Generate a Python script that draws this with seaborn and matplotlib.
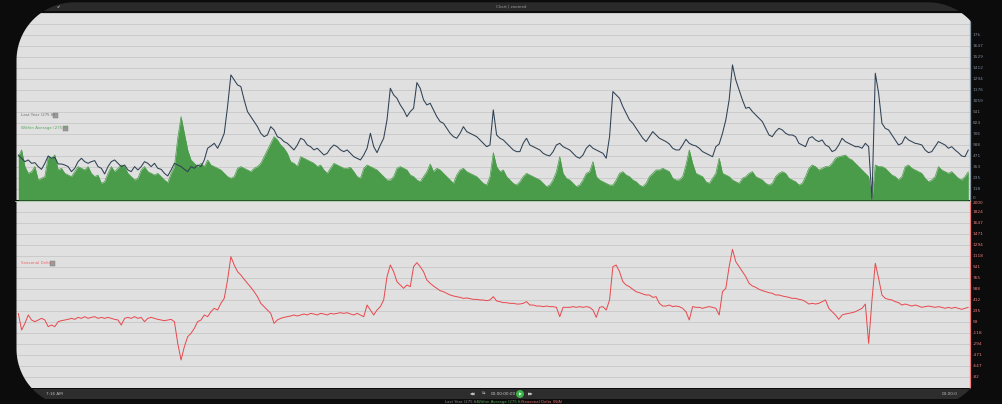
import numpy as np
import pandas as pd
import matplotlib
matplotlib.use("Agg")
import matplotlib.pyplot as plt
import matplotlib.transforms as mtransforms
import seaborn as sns
from matplotlib.path import Path
from matplotlib.patches import PathPatch, Rectangle, Circle

# ---------------- data ----------------
last_year = [
    481, 446, 410, 428, 392, 399, 357, 328, 392, 471,
    446, 456, 385, 385, 374, 357, 303, 339, 410, 446,
    410, 392, 410, 421, 357, 339, 278, 357, 410, 428,
    392, 357, 374, 321, 303, 357, 321, 357, 410, 392,
    357, 392, 339, 328, 285, 257, 321, 392, 374, 357,
    328, 303, 357, 339, 374, 357, 428, 553, 578, 606,
    553, 624, 713, 998, 1337, 1283, 1230, 1212, 1070, 945,
    891, 838, 784, 713, 677, 695, 784, 749, 677, 660,
    624, 606, 570, 535, 588, 660, 642, 588, 570, 535,
    553, 517, 481, 499, 553, 588, 570, 535, 517,
    535, 499, 463, 446, 428, 481, 553, 713, 570,
    506, 588, 660, 856, 1194, 1123, 1087, 1016, 963, 891,
    945, 980, 1255, 1194, 1070, 1016, 1034, 963, 891, 838,
    820, 766, 713, 677, 660, 713, 784, 731, 713, 695,
    677, 642, 606, 570, 588, 963, 695, 660, 642, 606,
    570, 535, 517, 517, 606, 660, 588, 570, 553, 535,
    499, 481, 471, 517, 588, 606, 570, 553, 535, 499,
    463, 446, 481, 553, 588, 553, 535, 517, 499, 446,
    677, 1159, 1123, 1087, 998, 927, 856, 820, 766, 713,
    660, 624, 677, 731, 695, 660, 642, 624, 599,
    553, 535, 535, 588, 649, 606, 588, 578, 553,
    517, 499, 481, 463, 570, 599, 713, 856, 1070, 1444,
    1283, 1176, 1070, 980, 991, 945, 909, 873, 838, 766,
    695, 677, 731, 766, 749, 713, 695, 695, 677, 606,
    588, 570, 660, 677, 642, 624, 642, 588, 570, 517,
    535, 588, 660, 624, 606, 588, 570, 570, 553, 606,
    570, 10, 1355, 1141, 820, 766, 749, 695, 642, 588,
    606, 677, 642, 624, 606, 599, 588, 535, 506, 517,
    570, 624, 606, 588, 553, 570, 535, 506, 471, 463,
    535,
]

within_average = [
    463, 535, 357, 285, 303, 357, 214, 232, 250, 463,
    446, 481, 321, 339, 285, 267, 250, 303, 357, 339,
    321, 357, 285, 250, 267, 178, 196, 285, 357, 303,
    339, 374, 357, 285, 250, 214, 232, 321, 357, 303,
    285, 267, 285, 250, 214, 185, 285, 357, 660, 891,
    713, 535, 428, 392, 357, 392, 357, 428, 374, 357,
    339, 321, 285, 250, 232, 250, 339, 357, 339, 321,
    303, 339, 357, 392, 463, 535, 606, 677, 642, 588,
    553, 499, 410, 392, 357, 463, 446, 428, 410, 392,
    357, 374, 321, 285, 339, 392, 374, 357, 339,
    339, 349, 303, 250, 232, 339, 374, 357, 339,
    321, 285, 250, 214, 214, 250, 339, 357, 339, 321,
    267, 250, 214, 196, 250, 303, 385, 303, 339, 321,
    285, 250, 214, 178, 267, 321, 339, 303, 285, 267,
    250, 214, 178, 160, 250, 506, 357, 303, 321, 250,
    214, 178, 160, 196, 250, 285, 267, 250, 232, 214,
    178, 143, 160, 214, 303, 463, 285, 232, 214, 178,
    143, 160, 214, 285, 303, 410, 250, 214, 196, 178,
    160, 160, 214, 285, 303, 267, 250, 214, 196, 160,
    143, 178, 250, 285, 321, 321, 339, 321, 303,
    232, 214, 214, 250, 374, 535, 392, 285, 267,
    250, 196, 178, 232, 285, 446, 285, 267, 250, 214,
    196, 178, 232, 250, 285, 303, 250, 232, 214, 178,
    160, 178, 250, 285, 303, 285, 232, 214, 196, 160,
    178, 250, 339, 374, 357, 321, 339, 357, 357, 392,
    446, 463, 471, 481, 446, 428, 392, 357, 321, 285,
    250, 0, 374, 357, 357, 339, 303, 267, 250, 214,
    250, 357, 374, 339, 321, 303, 285, 232, 196, 214,
    250, 357, 321, 303, 285, 303, 267, 232, 214, 250,
    303,
]

seasonal_delta = [
    202, -65, 42, 176, 96, 69, 96, 122, 96, -11,
    15, -11, 69, 85, 96, 106, 122, 106, 138, 122,
    149, 122, 138, 149, 122, 138, 122, 138, 122, 106,
    96, 15, 122, 138, 122, 149, 122, 138, 69, 122,
    138, 122, 106, 96, 85, 96, 106, 69, -279, -546,
    -332, -172, -118, -38, 69, 96, 176, 149, 229, 283,
    256, 363, 443, 737, 1112, 978, 871, 818, 748, 684,
    620, 550, 470, 363, 310, 256, 202, 42, 96, 122,
    138, 149, 160, 176, 160, 176, 192, 176, 202, 192,
    176, 202, 192, 176, 202, 192, 202, 213, 202, 213,
    192, 176, 202, 176, 149, 336, 256, 176, 256, 310,
    417, 791, 978, 871, 711, 657, 604, 657, 630, 951,
    1016, 951, 871, 737, 684, 641, 604, 566, 550, 523,
    497, 481, 470, 459, 443, 449, 438, 427, 427, 417,
    417, 406, 417, 470, 401, 390, 374,
    374, 363, 363, 352, 352, 363, 390, 336, 336,
    320, 320, 310, 320, 310, 310, 299, 149, 299, 299,
    299, 310, 299, 310, 299, 310, 299, 256, 138, 299,
    310, 256, 417, 951, 978, 871, 711, 657, 630, 588,
    550, 534, 513, 497, 497, 459, 470, 363, 320, 320,
    336, 310, 320, 310, 283, 229, 96, 310, 299, 299,
    283, 299, 310, 299, 283, 176, 550, 604, 951, 1229,
    1032, 951, 871, 791, 684, 641, 620, 588, 566, 550,
    534, 523, 497, 497, 481, 470, 459, 443, 443, 427,
    417, 390, 352, 363, 352, 363, 390, 417, 283, 229,
    176, 106, 176, 192, 202, 213, 229, 256, 283, 352,
    -279, 417, 1005, 764, 497, 443, 427, 417, 390, 374,
    336, 352, 336, 320, 336, 320, 299, 310, 320, 310,
    299, 310, 299, 283, 299, 283, 299, 283, 267, 283, 299,
]

top_tick_labels = ["0", "118", "235", "353", "471", "588", "706", "824", "941",
                   "1059", "1176", "1294", "1412", "1529", "1647", "1765", "1882", "2000"]
bottom_tick_labels = ["-1000", "-824", "-647", "-471", "-294", "-118", "59", "235", "412",
                      "588", "765", "941", "1118", "1294", "1471", "1647", "1824", "2000"]
top_range = (0, 2000)
bottom_range = (-1000, 2000)

legend_names = ["Last Year (275 ft)", "Within Average (275 ft)", "Seasonal Delta"]
footer_names = ["Last Year (275 ft)", "Within Average (275 ft)", "Seasonal Delta (N/A)"]

# ---------------- style ----------------
sns.set_theme(style="white")
plt.rcParams["font.family"] = ["DejaVu Sans"]

W, H = 1003, 404
BG = "#e0e0e0"
BLACK = "#0c0c0c"
NAVY = "#2f4154"
GREEN = "#4a9b4a"
RED = "#e8474c"
AXIS_BLUE = "#8d9cab"
GRID = "#cbcbcb"

fig = plt.figure(figsize=(W / 100, H / 100), dpi=100, facecolor=BG)

def px_axes(x0, y0, x1, y1):
    return fig.add_axes([x0 / W, (H - y1) / H, (x1 - x0) / W, (y1 - y0) / H])

n = len(last_year)
df = pd.DataFrame({
    "idx": np.arange(n),
    "last_year": last_year,
    "within_average": within_average,
})
df2 = pd.DataFrame({"idx": np.arange(len(seasonal_delta)), "delta": seasonal_delta})

x_left = -0.99
x_right = (n - 1) + 0.51

def style_axis(ax, ticks, labels, lab_color, spine_color):
    ax.set_facecolor(BG)
    ax.set_xlim(x_left, x_right)
    ax.set_yticks(ticks)
    ax.set_yticklabels([])
    ax.tick_params(axis="y", length=0)
    ax.set_xticks([])
    ax.grid(axis="y", color=GRID, lw=0.7)
    ax.set_axisbelow(True)
    for s in ["top", "left", "bottom"]:
        ax.spines[s].set_visible(False)
    ax.spines["right"].set_color(spine_color)
    ax.spines["right"].set_linewidth(0.9)
    ax.set_xlabel("")
    ax.set_ylabel("")
    tr = mtransforms.offset_copy(
        mtransforms.blended_transform_factory(ax.transAxes, ax.transData),
        fig=fig, x=2.5, y=0, units="dots")
    return tr

# top panel
ax1 = px_axes(15, 12.6, 970, 200)
ax1.fill_between(df["idx"], 0, df["within_average"], color=GREEN, lw=0, zorder=2)
sns.lineplot(data=df, x="idx", y="within_average", ax=ax1, color=GREEN, lw=0.5, zorder=2)
sns.lineplot(data=df, x="idx", y="last_year", ax=ax1, color=NAVY, lw=0.75, zorder=3)
ax1.set_ylim(top_range[0], top_range[1] + 3)
top_ticks = np.linspace(top_range[0], top_range[1], len(top_tick_labels))
tr1 = style_axis(ax1, top_ticks, top_tick_labels, "#7d8a96", AXIS_BLUE)
for i, (v, lab) in enumerate(zip(top_ticks, top_tick_labels)):
    ax1.text(1.0, v, lab, transform=tr1, fontsize=3.1, color="#7d8a96",
             ha="left", va="bottom" if i == 0 else "center", clip_on=False)

# bottom panel
ax2 = px_axes(15, 201.3, 970, 388.3)
sns.lineplot(data=df2, x="idx", y="delta", ax=ax2, color=RED, lw=0.7, zorder=3)
ax2.set_ylim(*bottom_range)
bottom_ticks = np.linspace(bottom_range[0], bottom_range[1], len(bottom_tick_labels))
tr2 = style_axis(ax2, bottom_ticks, bottom_tick_labels, "#ee7b7b", "#f08080")
last = len(bottom_ticks) - 1
for i, (v, lab) in enumerate(zip(bottom_ticks, bottom_tick_labels)):
    ax2.text(1.0, v, lab, transform=tr2, fontsize=3.1, color="#ee7b7b",
             ha="left", va="top" if i == last else "center", clip_on=False)

# ---------------- overlay (frame, bars, labels) ----------------
ov = fig.add_axes([0, 0, 1, 1], zorder=10)
ov.set_xlim(0, W)
ov.set_ylim(H, 0)
ov.axis("off")
ov.patch.set_alpha(0)

# separator between panels
ov.plot([15, 970], [200.6, 200.6], color="#a8cfa8", lw=0.6)

# in-chart legend labels
def tag(x, y, text, color, box_x):
    ov.text(x, y, text, color=color, fontsize=2.9, va="center", ha="left")
    ov.add_patch(Rectangle((box_x, y - 2.5), 5, 5, facecolor="#9a9a9a", edgecolor="#7a7a7a", lw=0.3))

tag(21, 115, legend_names[0], "#6e6e6e", 53)
tag(21, 128, legend_names[1], "#5aa55a", 63)
tag(21, 263, legend_names[2], "#e86a6a", 50)

# title bar
ov.add_patch(Rectangle((0, 0), W, 11.2, facecolor="#2a2a2a", lw=0))
ov.text(511, 6.5, "Chart | zoomed", color="#9a9a9a", fontsize=2.8, ha="center", va="center")
ov.text(58, 7.5, "\u2714", color="#dddddd", fontsize=3.0, ha="center", va="center")

# control bar
ov.add_patch(Rectangle((0, 389), W, 10, facecolor="#2d2d2d", lw=0))
ov.text(46, 394, "7:16 AM", color="#bbbbbb", fontsize=3.0, ha="left", va="center")
ov.text(473, 394, "\u25c0\u25c0", color="#cccccc", fontsize=2.6, ha="center", va="center")
ov.text(484, 394, "\u21c6", color="#cccccc", fontsize=3.0, ha="center", va="center")
ov.text(503, 394, "00:00:00:00", color="#cccccc", fontsize=3.0, ha="center", va="center")
ov.add_patch(Circle((520, 394), 4, facecolor="#3db34a", lw=0))
ov.text(520.4, 394, "\u25b6", color="white", fontsize=2.6, ha="center", va="center")
ov.text(531, 394, "\u25b6\u25b6", color="#cccccc", fontsize=2.6, ha="center", va="center")
ov.text(958, 394, "00:00:0", color="#bbbbbb", fontsize=3.0, ha="right", va="center")

# footer legend
ov.text(478, 401.8, footer_names[0], color="#8a8a8a", fontsize=2.8, ha="right", va="center")
ov.text(500, 401.8, footer_names[1], color="#5aa55a", fontsize=2.8, ha="center", va="center")
ov.text(522, 401.8, footer_names[2], color="#e86a6a", fontsize=2.8, ha="left", va="center")

# black outer mask with rounded corners
def rounded_rect(x0, y0, x1, y1, r, m=30):
    pts = []
    for cx, cy, a0 in [(x0 + r, y0 + r, 180), (x1 - r, y0 + r, 270),
                       (x1 - r, y1 - r, 0), (x0 + r, y1 - r, 90)]:
        ang = np.deg2rad(np.linspace(a0, a0 + 90, m))
        pts.extend(zip(cx + r * np.cos(ang), cy + r * np.sin(ang)))
    return np.array(pts)

def area(p):
    x, y = p[:, 0], p[:, 1]
    return 0.5 * np.sum(x * np.roll(y, -1) - np.roll(x, -1) * y)

outer = np.array([(-20, -20), (W + 20, -20), (W + 20, H + 20), (-20, H + 20)], float)
inner = rounded_rect(16.5, 2.3, 986, 407, 58)
if np.sign(area(outer)) == np.sign(area(inner)):
    inner = inner[::-1]
verts = np.vstack([outer, outer[:1], inner, inner[:1]])
codes = ([Path.MOVETO] + [Path.LINETO] * 3 + [Path.CLOSEPOLY] +
         [Path.MOVETO] + [Path.LINETO] * (len(inner) - 1) + [Path.CLOSEPOLY])
ov.add_patch(PathPatch(Path(verts, codes), facecolor=BLACK, edgecolor="none"))

fig.savefig("out.png", dpi=100, facecolor=BLACK)
